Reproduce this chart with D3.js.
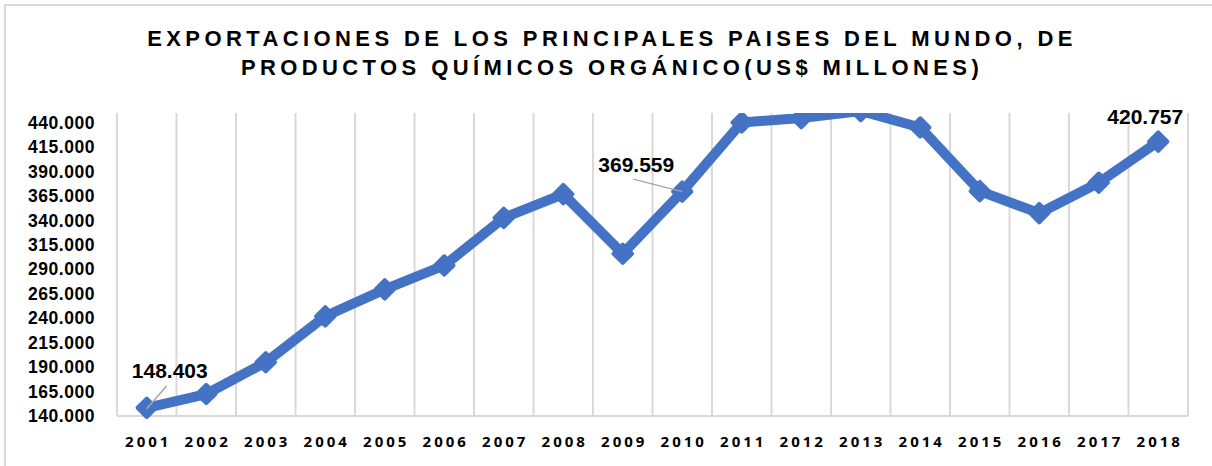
<!DOCTYPE html>
<html><head><meta charset="utf-8">
<script src="https://cdn.jsdelivr.net/npm/d3@7"></script>
<style>body{margin:0;background:#fff}svg{display:block}</style>
</head><body>
<script>
const years = ["2001","2002","2003","2004","2005","2006","2007","2008","2009","2010","2011","2012","2013","2014","2015","2016","2017","2018"];
const values = [148.403,162.5,195,242,269.5,294,342.7,367,306,369.559,440.3,444.8,452,435.2,370.1,347.5,378.7,420.757];
const yTicks = [140,165,190,215,240,265,290,315,340,365,390,415,440];
const labeled = [
  {i:0, text:"148.403", dx:23, dy:-30},
  {i:9, text:"369.559", dx:-46, dy:-20},
  {i:17, text:"420.757", dx:-13, dy:-18}
];
const titleLines = ["EXPORTACIONES DE LOS PRINCIPALES PAISES DEL MUNDO, DE","PRODUCTOS QUÍMICOS ORGÁNICO(US$ MILLONES)"];

const W=1212,H=466;
const m={l:117,r:1188,t:113,b:416};
const FONT="'Liberation Sans', Arial, sans-serif";
const svg=d3.select("body").append("svg").attr("width",W).attr("height",H);
svg.append("rect").attr("x",5).attr("y",5).attr("width",W+20).attr("height",H+20)
  .attr("fill","none").attr("stroke","#d9d9d9").attr("stroke-width",2);

const x=d3.scaleBand().domain(years).range([m.l,m.r]);
const y=d3.scaleLinear().domain([140,450]).range([m.b,m.t]);

// title
svg.append("g").selectAll("text").data(titleLines).join("text")
  .attr("x",612).attr("y",(d,i)=>46+i*29).attr("text-anchor","middle")
  .style("font-family",FONT).style("font-weight","bold")
  .style("font-size","22px").style("letter-spacing","4.4px").attr("fill","#000").text(d=>d);

// vertical gridlines at category boundaries
const bounds=years.map(d=>x(d)).concat([m.r]);
svg.append("g").selectAll("line").data(bounds).join("line")
  .attr("x1",d=>d).attr("x2",d=>d).attr("y1",m.t).attr("y2",m.b)
  .attr("stroke","#d9d9d9").attr("stroke-width",2);
svg.append("line").attr("x1",m.l).attr("x2",m.r).attr("y1",m.b).attr("y2",m.b)
  .attr("stroke","#d9d9d9").attr("stroke-width",2);

// y axis labels
const ya=svg.append("g").attr("transform",`translate(${m.l},0)`)
  .call(d3.axisLeft(y).tickValues(yTicks).tickSize(0).tickPadding(22)
  .tickFormat(d=>d3.format(".3f")(d)));
ya.select(".domain").remove();
ya.selectAll("text").style("font-family",FONT)
  .style("font-weight","bold").style("font-size","17.5px").style("letter-spacing","0.55px").attr("fill","#000");

// x axis labels
const xa=svg.append("g").attr("transform",`translate(0,${m.b})`)
  .call(d3.axisBottom(x).tickSize(0).tickPadding(20));
xa.select(".domain").remove();
xa.selectAll("text").style("font-family","'Open Sans', sans-serif")
  .style("font-weight","bold").style("font-size","15px").style("letter-spacing","3px").attr("dx",1.5).attr("fill","#000");

// series (clipped to plot area)
svg.append("clipPath").attr("id","clip").append("rect")
  .attr("x",m.l-20).attr("y",m.t).attr("width",m.r-m.l+40).attr("height",m.b-m.t+20);
const g=svg.append("g").attr("clip-path","url(#clip)");
const cx=d=>x(d)+x.bandwidth()/2;
const line=d3.line().x((d,i)=>cx(years[i])).y(d=>y(d));
g.append("path").datum(values).attr("d",line).attr("fill","none")
  .attr("stroke","#4472c4").attr("stroke-width",10).attr("stroke-linejoin","round");
g.selectAll("path.m").data(values).join("path").attr("class","m")
  .attr("transform",(d,i)=>`translate(${cx(years[i])},${y(d)}) rotate(45)`)
  .attr("d","M-6.5,-6.5H6.5V6.5H-6.5Z").attr("fill","#4472c4").attr("stroke","#4472c4")
  .attr("stroke-width",4).attr("stroke-linejoin","round");

// data labels + leader lines
const lab=svg.append("g");
labeled.forEach(l=>{
  const px=cx(years[l.i]), py=y(values[l.i]);
  if(l.i===0) lab.append("line").attr("x1",px).attr("y1",py+1).attr("x2",px+20).attr("y2",py-22).attr("stroke","#a6a6a6").attr("stroke-width",1.5);
  if(l.i===9) lab.append("line").attr("x1",px).attr("y1",py).attr("x2",px-49).attr("y2",py-12.5).attr("stroke","#a6a6a6").attr("stroke-width",1.5);
  lab.append("text").attr("x",px+l.dx).attr("y",py+l.dy).attr("text-anchor","middle")
    .style("font-family",FONT).style("font-weight","bold")
    .style("font-size","21px").attr("fill","#000").text(l.text);
});
</script>
</body></html>
